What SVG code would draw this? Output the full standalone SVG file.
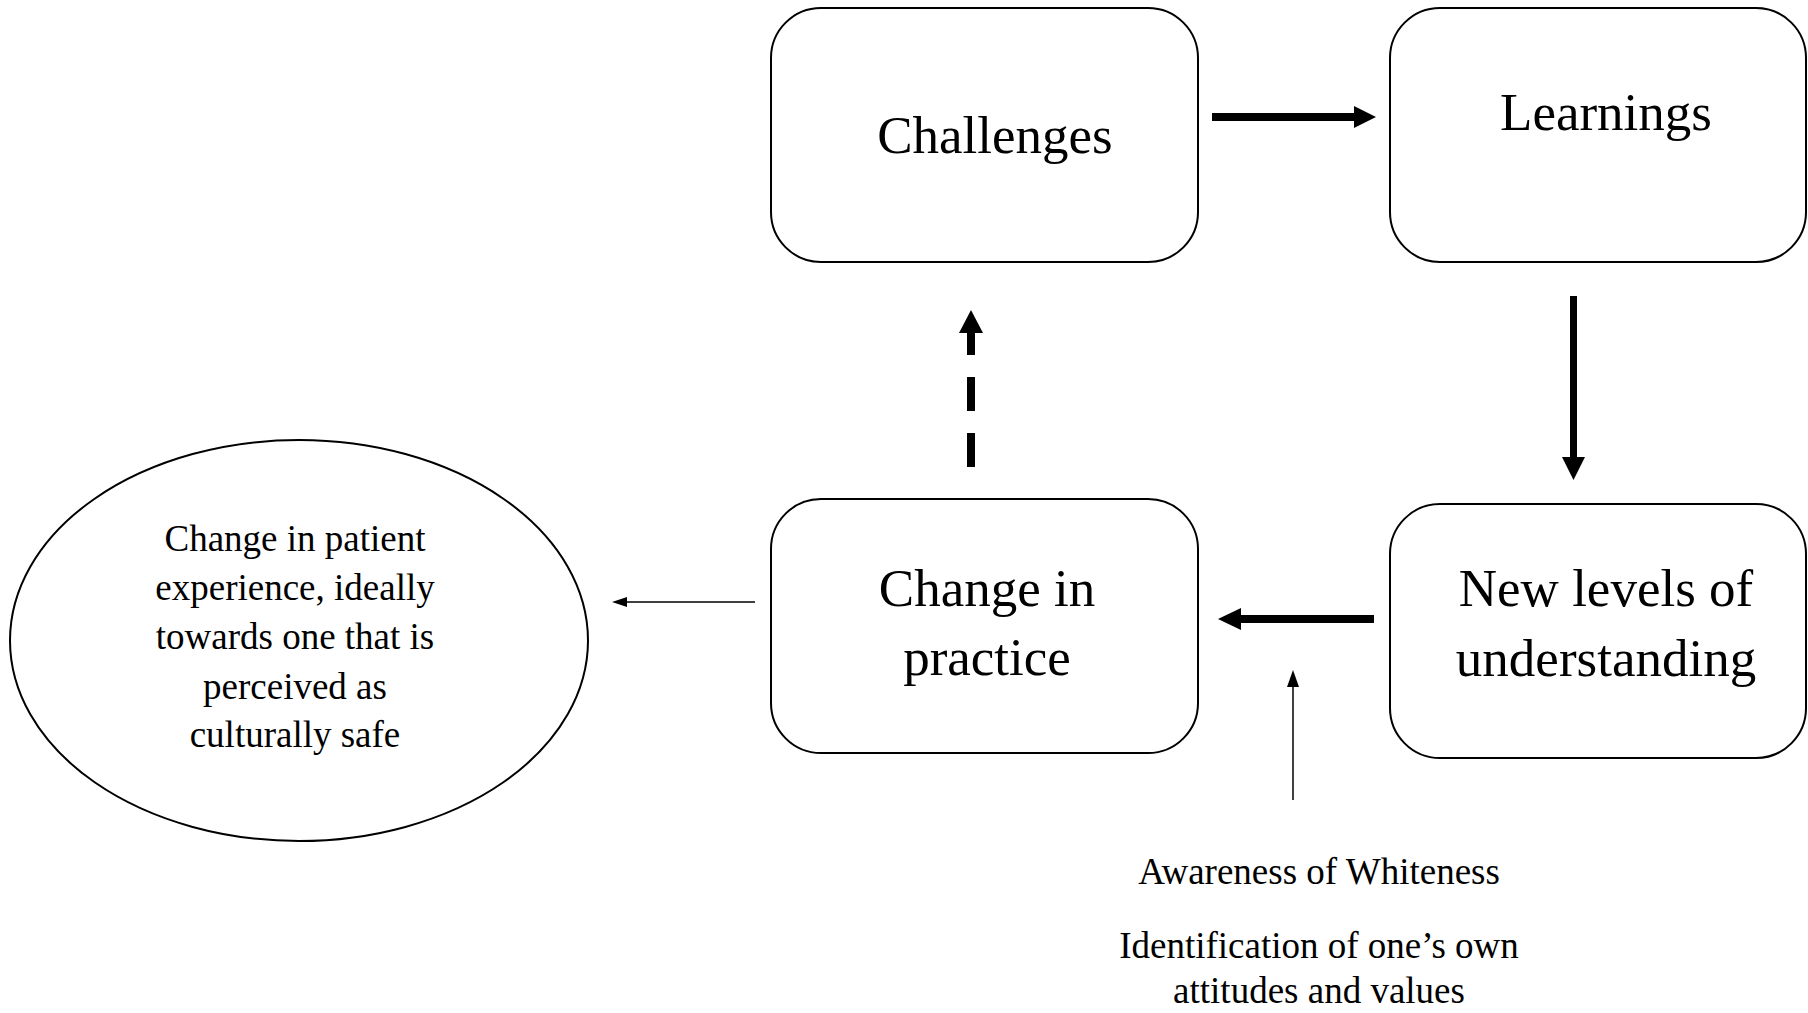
<svg xmlns="http://www.w3.org/2000/svg" width="1808" height="1013" viewBox="0 0 1808 1013">
<style>
.box{fill:#fff;stroke:#000;stroke-width:2}
.big{font-family:"Liberation Serif","Times New Roman",serif;font-size:53px;fill:#000;text-anchor:middle}
.small{font-family:"Liberation Serif","Times New Roman",serif;font-size:37px;fill:#000;text-anchor:middle}
.thick{stroke:#000;stroke-width:8;fill:none}
.thin{stroke:#000;stroke-width:1.5;fill:none}
</style>
<rect width="1808" height="1013" fill="#fff"/>
<g id="challenges">
<rect class="box" x="771" y="8" width="427" height="254" rx="50" ry="50"/>
<text class="big" x="995" y="153">Challenges</text>
</g>
<g id="learnings">
<rect class="box" x="1390" y="8" width="416" height="254" rx="50" ry="50"/>
<text class="big" x="1606" y="130">Learnings</text>
</g>
<g id="new-levels">
<rect class="box" x="1390" y="504" width="416" height="254" rx="50" ry="50"/>
<text class="big" x="1606" y="606">New levels of</text>
<text class="big" x="1606" y="676">understanding</text>
</g>
<g id="change-practice">
<rect class="box" x="771" y="499" width="427" height="254" rx="50" ry="50"/>
<text class="big" x="987" y="606">Change in</text>
<text class="big" x="987" y="675">practice</text>
</g>
<g id="patient-experience">
<ellipse class="box" cx="299" cy="640.5" rx="289" ry="200.5"/>
<text class="small" x="295" y="551">Change in patient</text>
<text class="small" x="295" y="600">experience, ideally</text>
<text class="small" x="295" y="649">towards one that is</text>
<text class="small" x="295" y="699">perceived as</text>
<text class="small" x="295" y="747">culturally safe</text>
</g>
<g id="whiteness-label">
<text class="small" x="1319" y="884">Awareness of Whiteness</text>
<text class="small" x="1319" y="958">Identification of one’s own</text>
<text class="small" x="1319" y="1003">attitudes and values</text>
</g>
<g id="connectors">
<line class="thick" x1="1212" y1="117" x2="1356" y2="117"/>
<polygon points="1354,106 1376,117 1354,128" fill="#000"/>
<line class="thick" x1="1573.5" y1="296" x2="1573.5" y2="459" style="stroke-width:7"/>
<polygon points="1562,457 1585,457 1573.5,480" fill="#000"/>
<line class="thick" x1="1374" y1="619" x2="1239" y2="619"/>
<polygon points="1241,608 1218,619 1241,630" fill="#000"/>
<line class="thick" x1="971" y1="467" x2="971" y2="333" stroke-dasharray="34 22"/>
<polygon points="959,333 983,333 971,310" fill="#000"/>
<line class="thin" x1="1293" y1="800" x2="1293" y2="685"/>
<polygon points="1287,687 1299,687 1293,670" fill="#000"/>
<line class="thin" x1="755" y1="602" x2="625" y2="602"/>
<polygon points="627,597 612,602 627,607" fill="#000"/>
</g>
</svg>
